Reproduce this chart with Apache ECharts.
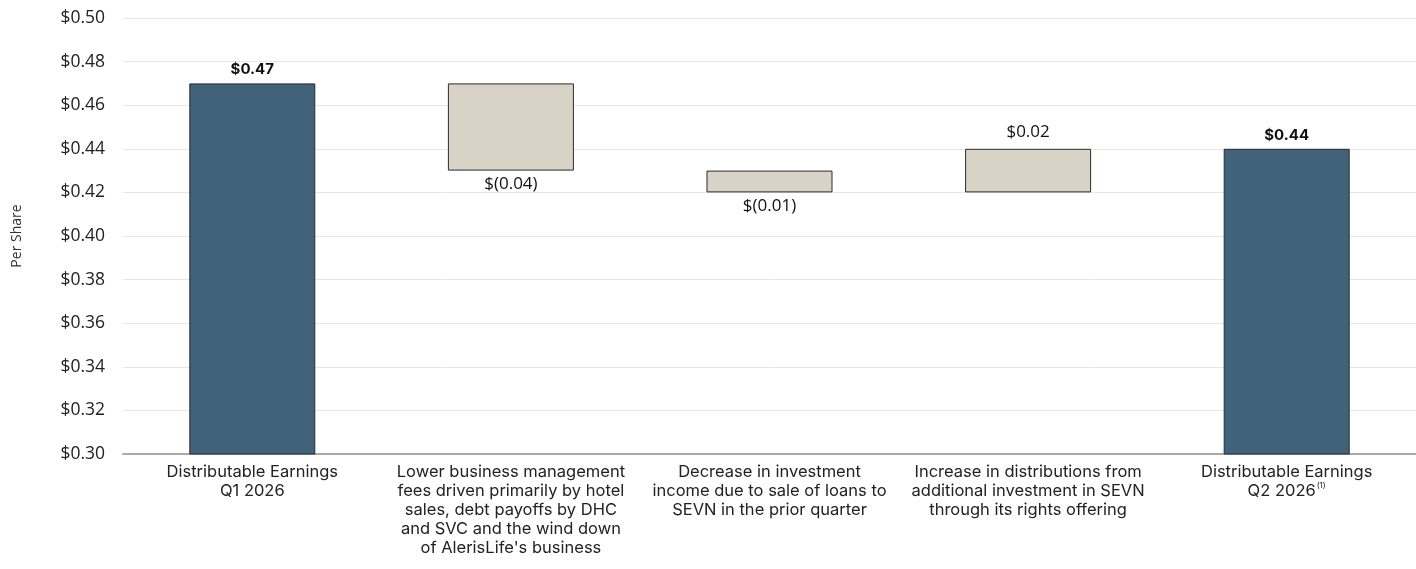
<!DOCTYPE html>
<html>
<head>
<meta charset="utf-8">
<script src="https://cdn.jsdelivr.net/npm/echarts@6/dist/echarts.min.js"></script>
<style>html,body{margin:0;padding:0;background:#fff}#c{width:1416px;height:569px}</style>
</head>
<body>
<div id="c"></div>
<script>
const categories = [
  'Distributable Earnings\nQ1 2026',
  'Lower business management\nfees driven primarily by hotel\nsales, debt payoffs by DHC\nand SVC and the wind down\nof AlerisLife\'s business',
  'Decrease in investment\nincome due to sale of loans to\nSEVN in the prior quarter',
  'Increase in distributions from\nadditional investment in SEVN\nthrough its rights offering',
  'Distributable Earnings\nQ2 2026{sup|(1)}'
];
const startValue = 0.47;
const changes = [-0.04, -0.01, 0.02];
const endValue = 0.44;
const yTicks = { min: 0.30, max: 0.50, interval: 0.02 };

const DARK = '#40627a', LIGHT = '#d9d2c6', BORDER = '#2b2b2b';
const fmt = v => (v < 0 ? '$(' + Math.abs(v).toFixed(2) + ')' : '$' + v.toFixed(2));

const baseData = [], barData = [];
baseData.push(0);
barData.push({ value: startValue, itemStyle: { color: DARK },
  label: { show: true, position: 'top', fontWeight: 'bold', fontSize: 15, formatter: fmt(startValue), distance: 6 } });
let running = startValue;
changes.forEach(c => {
  const next = +(running + c).toFixed(4);
  const lo = Math.min(running, next);
  baseData.push(lo);
  barData.push({ value: +Math.abs(c).toFixed(4), itemStyle: { color: LIGHT },
    label: { show: true, position: c < 0 ? 'bottom' : 'top', fontWeight: 'normal', fontSize: 17,
      fontFamily: '"Open Sans", sans-serif', formatter: fmt(c), distance: c < 0 ? 5 : 8 } });
  running = next;
});
baseData.push(0);
barData.push({ value: endValue, itemStyle: { color: DARK },
  label: { show: true, position: 'top', fontWeight: 'bold', fontSize: 15, formatter: fmt(endValue), distance: 6 } });

const chart = echarts.init(document.getElementById('c'));
chart.setOption({
  animation: false,
  grid: { left: 123, right: 0, top: 18, bottom: 115, containLabel: false },
  xAxis: {
    type: 'category', data: categories,
    axisTick: { show: false },
    axisLine: { lineStyle: { color: '#aaaaaa', width: 2 } },
    axisLabel: {
      interval: 0, color: '#222', fontSize: 16.5, lineHeight: 19, margin: 9,
      fontFamily: 'Inter, "Noto Sans", sans-serif',
      rich: { sup: { fontSize: 8, verticalAlign: 'top', color: '#222', lineHeight: 12, padding: [0,0,6,1] } }
    }
  },
  yAxis: {
    type: 'value', min: yTicks.min, max: yTicks.max, interval: yTicks.interval,
    name: 'Per Share', nameLocation: 'middle', nameGap: 99, nameRotate: 90,
    nameTextStyle: { color: '#333', fontSize: 14, fontFamily: '"Open Sans", sans-serif' },
    axisLabel: { formatter: v => '$' + v.toFixed(2), color: '#222', fontSize: 17.5, margin: 18,
      fontFamily: '"Open Sans", sans-serif' },
    splitLine: { lineStyle: { color: '#e6e6e6', width: 1 } },
    axisLine: { show: false }, axisTick: { show: false }
  },
  series: [
    { type: 'bar', stack: 'w', data: baseData, barWidth: 126,
      itemStyle: { color: 'transparent' }, silent: true },
    { type: 'bar', stack: 'w', data: barData, barWidth: 126,
      itemStyle: { borderColor: BORDER, borderWidth: 1 },
      label: { color: '#111', fontSize: 15, fontFamily: 'Inter, "Noto Sans", sans-serif' } }
  ]
});
</script>
</body>
</html>
